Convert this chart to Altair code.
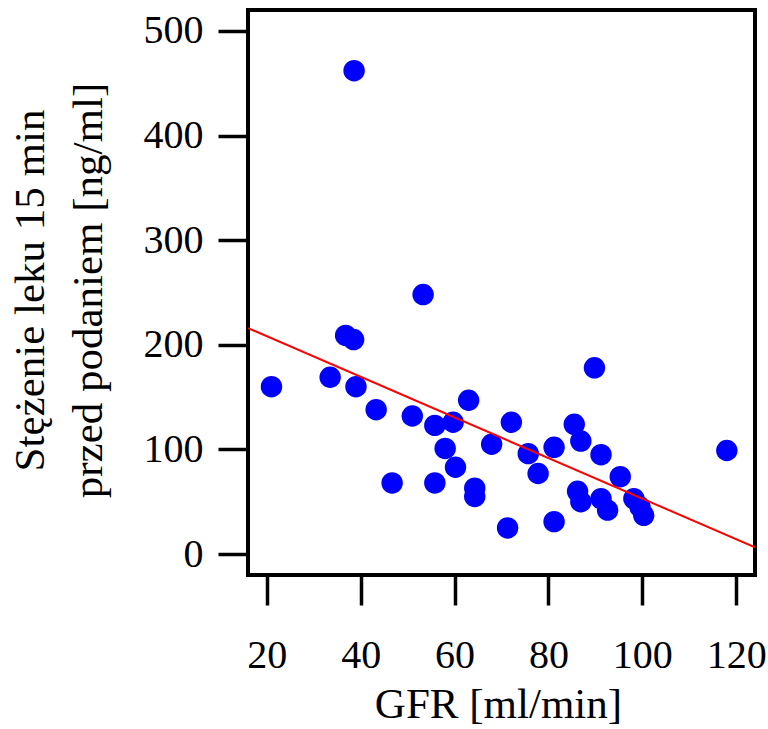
import altair as alt
import pandas as pd

# GFR [ml/min] and drug concentration 15 min before administration [ng/ml]
gfr = [21.0, 33.5, 36.8, 38.5, 39.0, 38.6, 43.3, 46.7, 51.0, 53.3, 55.8, 55.8, 58.0,
       59.7, 60.2, 63.0, 64.3, 64.3, 67.9, 71.3, 72.1, 75.7, 77.8, 81.2, 81.2, 85.5,
       86.2, 86.9, 86.9, 89.8, 91.2, 91.2, 92.6, 95.3, 98.2, 99.5, 100.3, 118.0]
conc = [160, 169, 209, 205, 160, 462, 138, 68, 132, 248, 123, 68, 101,
        126, 83, 147, 63, 55, 105, 25, 126, 96, 77, 102, 31, 124,
        60, 108, 50, 178, 95, 53, 42, 74, 53, 45, 37, 99]

# fitted regression line (intercept, slope)
fit_intercept = 247.0
fit_slope = -1.94
fit_x = [16, 124]
fit_y = [fit_intercept + fit_slope * v for v in fit_x]

x_ticks = [20, 40, 60, 80, 100, 120]
y_ticks = [0, 100, 200, 300, 400, 500]

points = pd.DataFrame({"gfr": gfr, "conc": conc})
fit = pd.DataFrame({"gfr": fit_x, "conc": fit_y})

FONT = "Liberation Serif"

x_enc = alt.X(
    "gfr:Q",
    scale=alt.Scale(domain=[16, 124], nice=False, zero=False),
    axis=alt.Axis(
        values=x_ticks,
        title="GFR [ml/min]",
        titleX=250,
        titleY=142,
        titleAlign="center",
        titleBaseline="alphabetic",
        labelPadding=30,
    ),
)
y_enc = alt.Y(
    "conc:Q",
    scale=alt.Scale(domain=[-20, 520], nice=False, zero=False),
    axis=alt.Axis(
        values=y_ticks,
        title=["Stężenie leku 15 min", "przed podaniem [ng/ml]"],
        titleAngle=270,
        titleX=-218,
        titleY=280,
        titleAlign="center",
        titleBaseline="middle",
        titleLineHeight=58,
        labelPadding=15,
    ),
)

pts = alt.Chart(points).mark_point(
    filled=True, shape="circle", size=460, color="#0000ff", opacity=1
).encode(x=x_enc, y=y_enc)

line = alt.Chart(fit).mark_line(color="#ff0000", strokeWidth=2, clip=True).encode(
    x="gfr:Q", y="conc:Q"
)

chart = (
    alt.layer(pts, line)
    .properties(
        width=507,
        height=565,
        background="white",
        autosize=alt.AutoSizeParams(type="none"),
        padding={"left": 248, "top": 10, "right": 13, "bottom": 154},
    )
    .configure_view(stroke="black", strokeWidth=4, fill="white")
    .configure_axis(
        grid=False,
        domain=False,
        ticks=True,
        tickSize=30,
        tickWidth=3.5,
        tickColor="black",
        labelFont=FONT,
        labelFontSize=40,
        labelColor="black",
        titleFont=FONT,
        titleFontSize=43,
        titleFontWeight="normal",
        titleColor="black",
    )
)

chart.save("out.html", embed_options={"renderer": "svg", "actions": False})
